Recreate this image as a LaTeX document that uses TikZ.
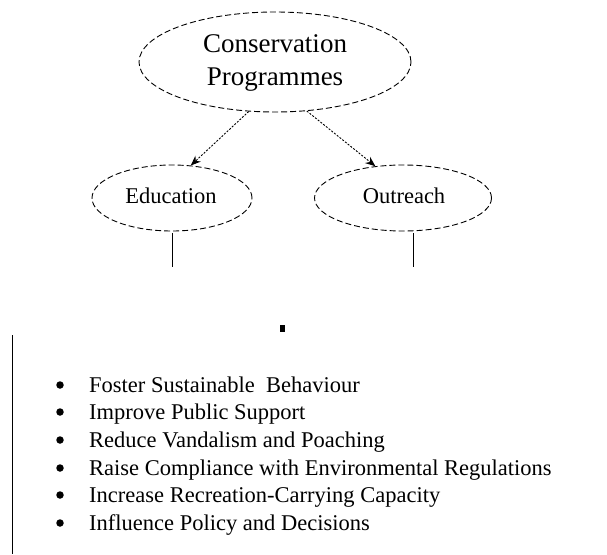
\documentclass[tikz,border=0pt]{standalone}
\usepackage{fontspec}
\setmainfont{Liberation Serif}
\usetikzlibrary{shapes.geometric,arrows.meta}
\tikzset{
  oval/.style={draw, ellipse, line width=0.9pt, dash pattern=on 6pt off 3pt, inner sep=0pt},
  link/.style={line width=0.9pt, dash pattern=on 2pt off 1.5pt, -{Stealth[length=10pt,width=8pt]}},
  stem/.style={line width=1pt},
  item/.style={anchor=base west, inner sep=0pt, font=\fontsize{22.5}{27}\selectfont},
  dotb/.style={circle, fill=black, minimum width=6.5pt, minimum height=7.5pt, inner sep=0pt}
}
\begin{document}
\begin{tikzpicture}[x=1pt,y=-1pt]
\useasboundingbox (0,0) rectangle (607,554);
% ellipses
\node[oval, minimum width=272pt, minimum height=100pt] (cp) at (275,62) {};
\node[align=center, font=\fontsize{27}{33}\selectfont, inner sep=0pt] (cpt) at (275,63) {Conservation\\Programmes};
\node[oval, minimum width=160pt, minimum height=66pt] (edu) at (172,198) {};
\node[font=\fontsize{22.5}{27}\selectfont, inner sep=0pt] (edut) at (171,196) {Education};
\node[oval, minimum width=177pt, minimum height=66pt] (out) at (403,198) {};
\node[font=\fontsize{22.5}{27}\selectfont, inner sep=0pt] (outt) at (404,196) {Outreach};
% arrows
\draw[link] (cp.242) -- (edu.60);
\draw[link] (cp.303) -- (out.131);
% stems
\coordinate (eduend) at (172,267);
\coordinate (outend) at (413,267);
\draw[stem] (172,233) -- (eduend);
\draw[stem] (413,233) -- (outend);
% small dot
\node[fill=black, minimum width=5pt, minimum height=7pt, inner sep=0pt] (dot) at (282,328) {};
% left bar
\coordinate (bartop) at (12,335);
\coordinate (barbot) at (12,554);
\draw[stem] (bartop) -- (barbot);
% list
\foreach \y/\t [count=\i] in {392/Foster Sustainable\ \ Behaviour,
  419/Improve Public Support,
  447/Reduce Vandalism and Poaching,
  475/Raise Compliance with Environmental Regulations,
  502/Increase Recreation-Carrying Capacity,
  530/Influence Policy and Decisions}{
  \node[dotb] (b\i) at (60,\y-7) {};
  \node[item] (t\i) at (89,\y) {\t};
}
\end{tikzpicture}
\end{document}
